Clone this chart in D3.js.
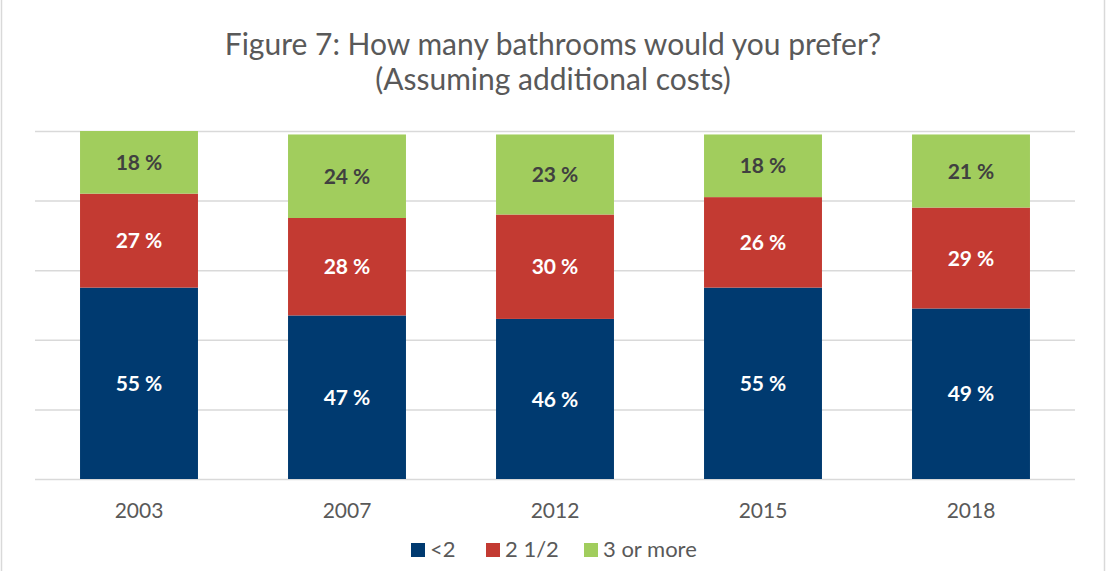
<!DOCTYPE html>
<html lang="en">
  <head>
    <meta charset="utf-8" />
    <style type="text/css">
      body {
        margin: 0;
        background: #fff;
      }
      svg text {
        font-family: Lato, "Open Sans", sans-serif;
      }
    </style>
  </head>
  <body>
    <svg width="1106" height="571"></svg>

    <script src="https://d3js.org/d3.v7.min.js"></script>
    <script type="text/javascript">
      // chart data
      var years = ["2003", "2007", "2012", "2015", "2018"];
      var seriesNames = ["<2", "2 1/2", "3 or more"];
      var lessThanTwo = [55, 47, 46, 55, 49];
      var twoAndHalf = [27, 28, 30, 26, 29];
      var threeOrMore = [18, 24, 23, 18, 21];
      var yTicks = [0, 20, 40, 60, 80, 100];

      var colors = ["#003a70", "#c33a32", "#a1cd5d"];
      var labelColors = ["#ffffff", "#ffffff", "#404040"];

      var svg = d3.select("svg"),
        width = +svg.attr("width"),
        height = +svg.attr("height");

      // outer frame
      svg
        .append("rect")
        .attr("x", 1.5)
        .attr("y", -2)
        .attr("width", width - 3)
        .attr("height", height + 4)
        .attr("fill", "none")
        .attr("stroke", "#d9d9d9")
        .attr("stroke-width", 1.5);

      var rows = years.map(function (y, i) {
        return {
          year: y,
          "<2": lessThanTwo[i],
          "2 1/2": twoAndHalf[i],
          "3 or more": threeOrMore[i],
        };
      });

      var stacked = d3.stack().keys(seriesNames)(rows);

      var x = d3
        .scaleBand()
        .domain(years)
        .range([35, 1075])
        .paddingInner(0.433)
        .paddingOuter(0.2165);

      var y = d3.scaleLinear().domain([0, 100]).range([479, 131]);

      // title
      var title = svg
        .append("text")
        .attr("x", 553)
        .attr("text-anchor", "middle")
        .attr("fill", "#595959")
        .style("font-size", "30px");
      title.append("tspan").attr("x", 553).attr("y", 55).text("Figure 7: How many bathrooms would you prefer?");
      title.append("tspan").attr("x", 553).attr("y", 90).text("(Assuming additional costs)");

      // gridlines
      svg
        .selectAll(".grid")
        .data(yTicks)
        .enter()
        .append("line")
        .attr("class", "grid")
        .attr("x1", 35)
        .attr("x2", 1075)
        .attr("y1", function (d) {
          return y(d) + 0.5;
        })
        .attr("y2", function (d) {
          return y(d) + 0.5;
        })
        .attr("stroke", "#d9d9d9")
        .attr("stroke-width", 1.5);

      // bars
      var layer = svg
        .selectAll(".layer")
        .data(stacked)
        .enter()
        .append("g")
        .attr("class", "layer")
        .attr("fill", function (d, i) {
          return colors[i];
        });

      layer
        .selectAll("rect")
        .data(function (d) {
          return d;
        })
        .enter()
        .append("rect")
        .attr("x", function (d) {
          return x(d.data.year);
        })
        .attr("width", x.bandwidth())
        .attr("y", function (d) {
          return y(d[1]);
        })
        .attr("height", function (d) {
          return y(d[0]) - y(d[1]);
        });

      // value labels
      stacked.forEach(function (s, si) {
        svg
          .selectAll(".lbl" + si)
          .data(s)
          .enter()
          .append("text")
          .attr("class", "lbl" + si)
          .attr("x", function (d) {
            return x(d.data.year) + x.bandwidth() / 2;
          })
          .attr("y", function (d) {
            return (y(d[0]) + y(d[1])) / 2;
          })
          .attr("dy", "0.36em")
          .attr("text-anchor", "middle")
          .attr("fill", labelColors[si])
          .style("font-size", "21px")
          .style("font-weight", "bold")
          .text(function (d) {
            return d[1] - d[0] + " %";
          });
      });

      // x axis labels
      svg
        .selectAll(".year")
        .data(years)
        .enter()
        .append("text")
        .attr("class", "year")
        .attr("x", function (d) {
          return x(d) + x.bandwidth() / 2;
        })
        .attr("y", 518)
        .attr("text-anchor", "middle")
        .attr("fill", "#595959")
        .style("font-size", "21px")
        .text(function (d) {
          return d;
        });

      // legend
      var legendX = [411, 486, 584];
      var legend = svg
        .selectAll(".legend")
        .data(seriesNames)
        .enter()
        .append("g")
        .attr("class", "legend")
        .attr("transform", function (d, i) {
          return "translate(" + legendX[i] + ",543)";
        });

      legend
        .append("rect")
        .attr("width", 14)
        .attr("height", 14)
        .attr("fill", function (d, i) {
          return colors[i];
        });

      legend
        .append("text")
        .attr("x", 19)
        .attr("y", 14)
        .attr("fill", "#595959")
        .style("font-size", "22px")
        .text(function (d) {
          return d;
        });
    </script>
  </body>
</html>
